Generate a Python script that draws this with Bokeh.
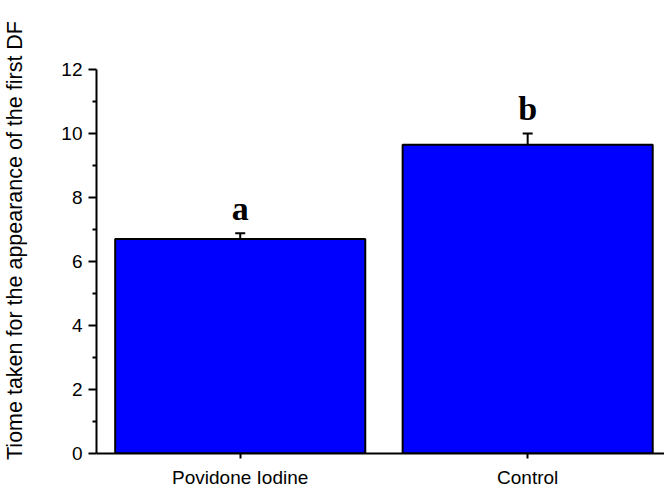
import math
from bokeh.plotting import figure
from bokeh.models import Range1d, FixedTicker, Whisker, ColumnDataSource, TeeHead
from bokeh.core.properties import value
from bokeh.embed import file_html
from bokeh.resources import INLINE

# Data
categories = ["Povidone Iodine", "Control"]
means = [6.7, 9.65]
errors = [0.18, 0.35]
letters = ["a", "b"]
y_ticks = [0, 2, 4, 6, 8, 10, 12]
y_minor = [1, 3, 5, 7, 9, 11]
y_label = "Tiome taken for the appearance of the first DF"

xs = [i + 0.5 for i in range(len(categories))]
upper = [m + e for m, e in zip(means, errors)]

# frame reaches above the axis' last tick; the axis itself stops at 12
p = figure(width=664, height=495, x_range=Range1d(0, 1.976), y_range=Range1d(0, 13.3125),
           output_backend="svg", toolbar_location=None,
           min_border_left=95, min_border_right=0, min_border_top=27, min_border_bottom=42)
p.outline_line_color = None
p.xgrid.grid_line_color = None
p.ygrid.grid_line_color = None
p.background_fill_color = "white"
p.border_fill_color = "white"

src = ColumnDataSource(dict(x=xs, top=means, upper=upper, lower=means, letter=letters))

p.vbar(x="x", top="top", width=0.87, source=src, fill_color="#0000FF",
       line_color="black", line_width=2)

wh = Whisker(base="x", upper="upper", lower="lower", source=src, dimension="height",
             line_color="black", line_width=2,
             upper_head=TeeHead(size=10, line_width=2, line_color="black"),
             lower_head=None)
p.add_layout(wh)

# letters sit a little above the error-bar caps
p.text(x="x", y="upper", text="letter", source=src, text_align="center",
       text_baseline="alphabetic", y_offset=-25,
       text_font=value("Liberation Serif"), text_font_style="bold",
       text_font_size="34px", text_color="black")

font = "Liberation Sans"
ya = p.yaxis[0]
ya.bounds = (y_ticks[0], y_ticks[-1])
ya.ticker = FixedTicker(ticks=y_ticks, minor_ticks=y_minor)
ya.axis_line_width = 2
ya.major_tick_line_width = 2
ya.minor_tick_line_width = 2
ya.major_tick_out = 8
ya.major_tick_in = 0
ya.minor_tick_out = 4
ya.minor_tick_in = 0
ya.major_label_text_font = font
ya.major_label_text_font_size = "19px"
ya.major_label_text_color = "black"
ya.major_label_standoff = 6
ya.axis_label = y_label
ya.axis_label_text_font = font
ya.axis_label_text_font_size = "21.5px"
ya.axis_label_text_font_style = "normal"
ya.axis_label_text_color = "black"
ya.axis_label_standoff = 31

xa = p.xaxis[0]
xa.ticker = FixedTicker(ticks=xs, minor_ticks=[])
xa.major_label_overrides = {x: c for x, c in zip(xs, categories)}
xa.axis_line_width = 2
xa.major_tick_line_width = 2
xa.major_tick_out = 5
xa.major_tick_in = 0
xa.minor_tick_line_color = None
xa.major_label_text_font = font
xa.major_label_text_font_size = "19px"
xa.major_label_text_color = "black"
xa.major_label_standoff = 8

open("out.html", "w").write(file_html(p, INLINE))
